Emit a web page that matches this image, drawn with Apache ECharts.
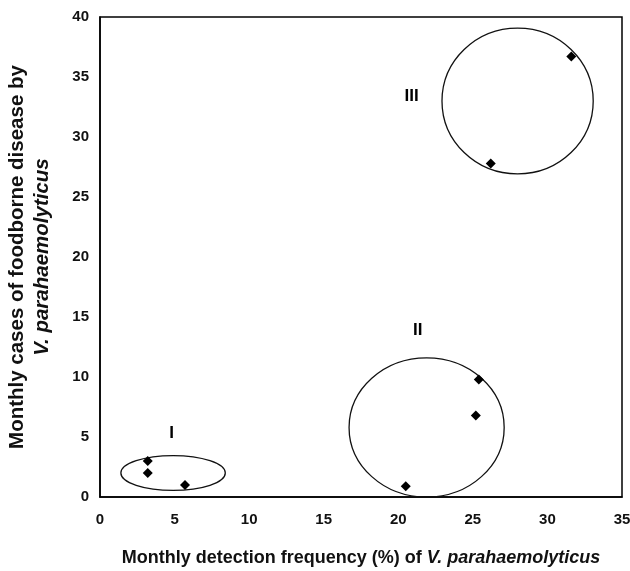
<!DOCTYPE html>
<html style="height: 100%">
   <head>
       <meta charset="utf-8">
   </head>
   <body style="height: 100%; margin: 0; background: #fff">
       <div id="container" style="width: 630px; height: 571px"></div>
       <script type="text/javascript" src="https://cdn.jsdelivr.net/npm/echarts@6/dist/echarts.min.js"></script>
       <script type="text/javascript">

// monthly detection frequency (%) vs monthly cases
var freq  = [3.2, 3.2, 5.7, 20.5, 25.2, 25.4, 26.2, 31.6];
var cases = [3, 2, 1, 0.9, 6.8, 9.8, 27.8, 36.7];

// cluster ellipses (data units)
var clusterName = ['I', 'II', 'III'];
var clusterX  = [4.9, 21.9, 28.0];
var clusterY  = [2.0, 5.8, 33.0];
var clusterRx = [3.5, 5.2, 5.07];
var clusterRy = [1.45, 5.8, 6.08];
var labelX = [4.8, 21.3, 20.9];
var labelY = [5.3, 13.9, 33.4];

var dom = document.getElementById("container");
var myChart = echarts.init(dom);

var points = freq.map(function (f, i) { return [f, cases[i]]; });
var clusters = clusterX.map(function (x, i) {
    return [x, clusterY[i], clusterRx[i], clusterRy[i]];
});
var labels = labelX.map(function (x, i) {
    return { value: [x, labelY[i]], name: clusterName[i] };
});

var fontBase = { fontFamily: 'Liberation Sans', fontWeight: 'bold', color: '#111' };

option = {
    backgroundColor: '#fff',
    animation: false,
    grid: {
        left: 100, right: 8, top: 17, bottom: 74,
        containLabel: false, outerBoundsMode: 'none',
        show: true, borderColor: '#000', borderWidth: 1.5
    },
    xAxis: {
        type: 'value', min: 0, max: 35, interval: 5,
        name: '{n|Monthly detection frequency (%) of }{i|V. parahaemolyticus}',
        nameLocation: 'middle', nameGap: 52,
        nameTextStyle: {
            rich: {
                n: { fontFamily: 'Liberation Sans', fontWeight: 'bold', fontSize: 18, color: '#111' },
                i: { fontFamily: 'Liberation Sans', fontWeight: 'bold', fontStyle: 'italic', fontSize: 18, color: '#111' }
            }
        },
        axisLine: { show: true, lineStyle: { color: '#000', width: 1.5 } },
        axisTick: { show: false },
        splitLine: { show: false },
        axisLabel: Object.assign({ fontSize: 15, margin: 15 }, fontBase)
    },
    yAxis: {
        type: 'value', min: 0, max: 40, interval: 5,
        name: '{n|Monthly cases of foodborne disease by}\n{i|V. parahaemolyticus}',
        nameLocation: 'middle', nameGap: 45,
        nameTextStyle: {
            align: 'center',
            lineHeight: 25,
            rich: {
                n: { fontFamily: 'Liberation Sans', fontWeight: 'bold', fontSize: 20.5, color: '#111', lineHeight: 25 },
                i: { fontFamily: 'Liberation Sans', fontWeight: 'bold', fontStyle: 'italic', fontSize: 20.5, color: '#111', lineHeight: 25 }
            }
        },
        axisLine: { show: true, lineStyle: { color: '#000', width: 1.5 } },
        axisTick: { show: false },
        splitLine: { show: false },
        axisLabel: Object.assign({ fontSize: 15, margin: 11 }, fontBase)
    },
    series: [
        {
            type: 'custom',
            data: clusters,
            silent: true,
            renderItem: function (params, api) {
                var c = api.coord([api.value(0), api.value(1)]);
                var s = api.size([api.value(2), api.value(3)]);
                return {
                    type: 'ellipse',
                    shape: { cx: c[0], cy: c[1], rx: s[0], ry: s[1] },
                    style: { fill: 'none', stroke: '#111', lineWidth: 1.3 }
                };
            }
        },
        {
            type: 'scatter',
            data: points,
            symbol: 'diamond',
            symbolSize: 10,
            itemStyle: { color: '#000', opacity: 1 }
        },
        {
            type: 'scatter',
            data: labels,
            symbolSize: 0,
            itemStyle: { opacity: 1 },
            label: {
                show: true, position: 'inside',
                formatter: '{b}', opacity: 1,
                fontFamily: 'Liberation Sans', fontWeight: 'bold', fontSize: 17, color: '#000'
            }
        }
    ]
};

myChart.setOption(option);
window.onresize = function () { myChart.resize(); };
       </script>
   </body>
</html>
